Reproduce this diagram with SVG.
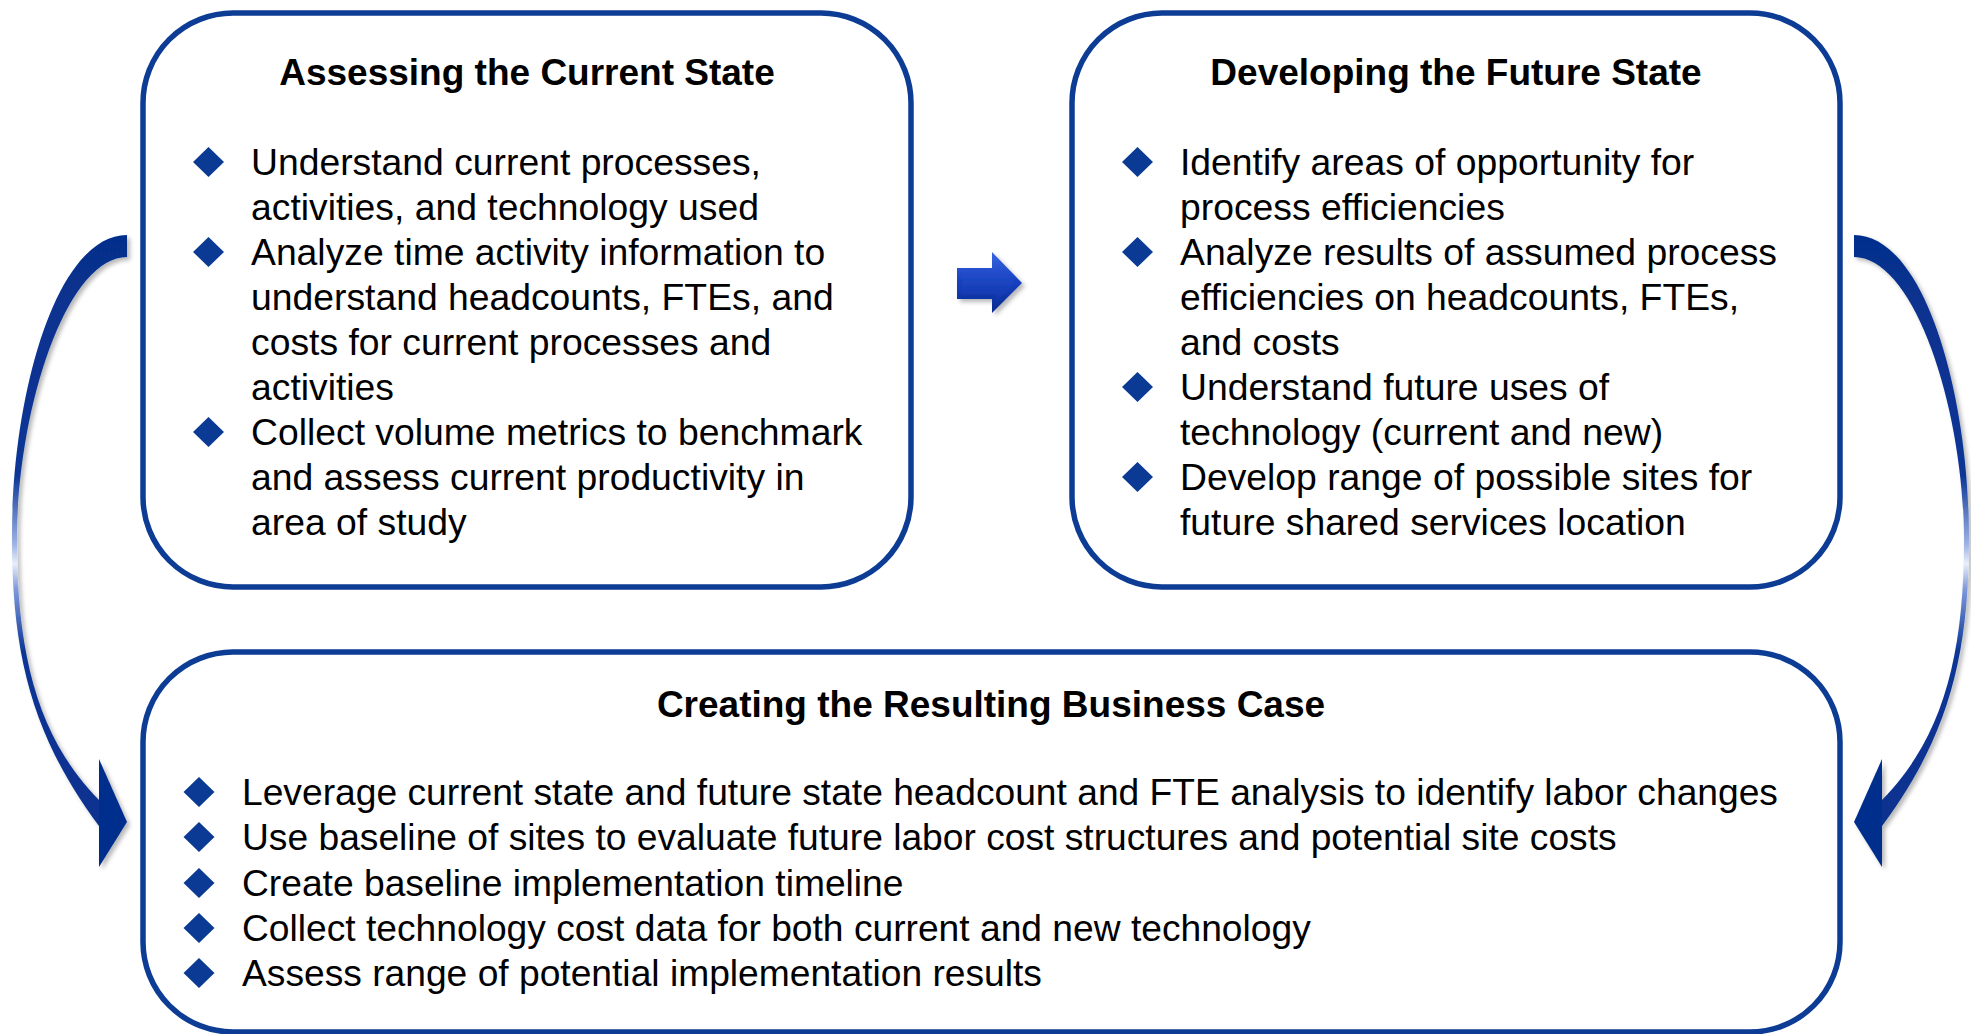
<svg xmlns="http://www.w3.org/2000/svg" width="1971" height="1034" viewBox="0 0 1971 1034">
<style>
.box{fill:#fff;stroke:#0c3c94;stroke-width:5.5}
.title{font-family:"Liberation Sans",Arial,sans-serif;font-size:37px;font-weight:bold;fill:#000;text-anchor:middle}
.body{font-family:"Liberation Sans",Arial,sans-serif;font-size:37.3px;fill:#000}
.wide{font-size:37.2px}
.bul{fill:#0a3a94}
</style>
<defs>
<polygon id="dia" points="0,-15 15.5,0 0,15 -15.5,0"/>
<filter id="sh" x="-20%" y="-10%" width="150%" height="130%">
<feDropShadow dx="3" dy="3" stdDeviation="2" flood-color="#000" flood-opacity="0.28"/>
</filter>
<linearGradient id="cg" gradientUnits="userSpaceOnUse" x1="0" y1="235" x2="0" y2="867">
<stop offset="0" stop-color="#062f8c"/>
<stop offset="0.38" stop-color="#0a3596"/>
<stop offset="0.49" stop-color="#9fb4e6"/>
<stop offset="0.52" stop-color="#e8eefa"/>
<stop offset="0.56" stop-color="#7f99db"/>
<stop offset="0.66" stop-color="#0a3596"/>
<stop offset="1" stop-color="#062f8c"/>
</linearGradient>
<linearGradient id="ag" x1="0" y1="0" x2="0" y2="1">
<stop offset="0" stop-color="#3a66e0"/>
<stop offset="0.5" stop-color="#1640c0"/>
<stop offset="1" stop-color="#0a2a8c"/>
</linearGradient>
<linearGradient id="ag2" x1="0" y1="0" x2="0" y2="1">
<stop offset="0" stop-color="#2a55d6"/>
<stop offset="1" stop-color="#0d33a8"/>
</linearGradient>
</defs>

<g id="connectors">
<g id="arrow-left" filter="url(#sh)">
<path fill="url(#cg)" d="M127,235 C55,235 11,400 12,540 C12,660 35,740 99,826 L99,800 C40,740 17,660 17,540 C17,410 66,257 127,257 Z"/>
<polygon fill="#062f8c" points="99,759 127,822 99,867"/>
</g>
<g id="arrow-right" filter="url(#sh)">
<path fill="url(#cg)" d="M1854,235 C1926,235 1970,400 1969,540 C1969,660 1946,740 1882,826 L1882,800 C1941,740 1964,660 1964,540 C1964,410 1915,257 1854,257 Z"/>
<polygon fill="#062f8c" points="1882,759 1854,822 1882,867"/>
</g>
<g id="arrow-mid" filter="url(#sh)">
<path fill="url(#ag)" d="M957,268 L992,268 L992,252 L1022,283 L992,313 L992,299 L957,299 Z"/>
<path fill="url(#ag2)" d="M962,273 L996,273 L996,263 L1015,283 L996,303 L996,294 L962,294 Z"/>
</g>
</g>

<g id="node-current">
<rect class="box" x="143" y="13" width="768" height="574" rx="90" ry="90"/>
<text class="title" x="527" y="85">Assessing the Current State</text>
<use href="#dia" class="bul" x="208.5" y="162"/>
<use href="#dia" class="bul" x="208.5" y="252"/>
<use href="#dia" class="bul" x="208.5" y="432"/>
<text class="body" x="251" y="175">Understand current processes,</text>
<text class="body" x="251" y="220">activities, and technology used</text>
<text class="body" x="251" y="265">Analyze time activity information to</text>
<text class="body" x="251" y="310">understand headcounts, FTEs, and</text>
<text class="body" x="251" y="355">costs for current processes and</text>
<text class="body" x="251" y="400">activities</text>
<text class="body" x="251" y="445">Collect volume metrics to benchmark</text>
<text class="body" x="251" y="490">and assess current productivity in</text>
<text class="body" x="251" y="535">area of study</text>
</g>

<g id="node-future">
<rect class="box" x="1072" y="13" width="768" height="574" rx="90" ry="90"/>
<text class="title" x="1456" y="85">Developing the Future State</text>
<use href="#dia" class="bul" x="1137.5" y="162"/>
<use href="#dia" class="bul" x="1137.5" y="252"/>
<use href="#dia" class="bul" x="1137.5" y="387"/>
<use href="#dia" class="bul" x="1137.5" y="477"/>
<text class="body" x="1180" y="175">Identify areas of opportunity for</text>
<text class="body" x="1180" y="220">process efficiencies</text>
<text class="body" x="1180" y="265">Analyze results of assumed process</text>
<text class="body" x="1180" y="310">efficiencies on headcounts, FTEs,</text>
<text class="body" x="1180" y="355">and costs</text>
<text class="body" x="1180" y="400">Understand future uses of</text>
<text class="body" x="1180" y="445">technology (current and new)</text>
<text class="body" x="1180" y="490">Develop range of possible sites for</text>
<text class="body" x="1180" y="535">future shared services location</text>
</g>

<g id="node-business-case">
<rect class="box" x="143" y="652" width="1697" height="380" rx="90" ry="90"/>
<text class="title" x="991" y="717">Creating the Resulting Business Case</text>
<use href="#dia" class="bul" x="199" y="792"/>
<use href="#dia" class="bul" x="199" y="837"/>
<use href="#dia" class="bul" x="199" y="883"/>
<use href="#dia" class="bul" x="199" y="928"/>
<use href="#dia" class="bul" x="199" y="973"/>
<text class="body wide" x="242" y="805">Leverage current state and future state headcount and FTE analysis to identify labor changes</text>
<text class="body wide" x="242" y="850">Use baseline of sites to evaluate future labor cost structures and potential site costs</text>
<text class="body wide" x="242" y="896">Create baseline implementation timeline</text>
<text class="body wide" x="242" y="941">Collect technology cost data for both current and new technology</text>
<text class="body wide" x="242" y="986">Assess range of potential implementation results</text>
</g>
</svg>
